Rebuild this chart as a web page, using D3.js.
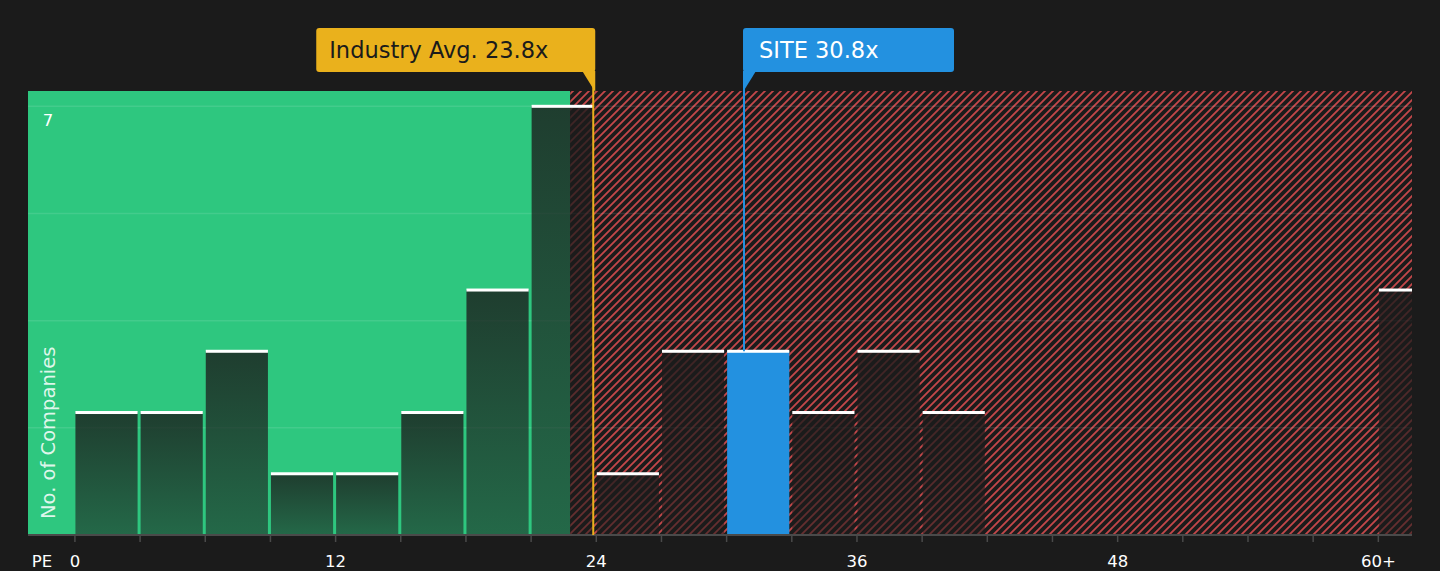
<!DOCTYPE html>
<html>
<head>
<meta charset="utf-8">
<script src="https://cdn.jsdelivr.net/npm/d3@7"></script>
<style>
  html, body { margin: 0; padding: 0; background: #1b1b1b; }
  svg { display: block; font-family: 'DejaVu Sans', sans-serif; }
</style>
</head>
<body>
<svg id="chart" width="1440" height="571"></svg>
<script>
// ── Data ──────────────────────────────────────────────────────────────────────
const binStarts = [0, 3, 6, 9, 12, 15, 18, 21, 24, 27, 30, 33, 36, 39, 60]
const counts    = [2, 2, 3, 1, 1, 2, 4, 7, 1, 3, 3, 2, 3, 2, 4]
const BIN = 3
const siteBin = 30
const xTickValues = [0, 12, 24, 36, 48, 60]
const xTickLabels = ['0', '12', '24', '36', '48', '60+']
const yGrid = [1.75, 3.5, 5.25, 7]
const yTickLabels = [7]
const industryAvg = 23.86
const siteValue = 30.8
const fairEnd = 22.8
const xDomain = [-2.16, 61.55]

// ── Setup ─────────────────────────────────────────────────────────────────────
const plot = { left: 28, right: 1412, top: 91, bottom: 535 }
const svg = d3.select('#chart')

const x = d3.scaleLinear().domain(xDomain).range([plot.left, plot.right])
const y = d3.scaleLinear().domain([0, 7.25]).range([plot.bottom, plot.top])

const defs = svg.append('defs')
const P = 8
const hatch = defs.append('pattern')
  .attr('id', 'hatch').attr('patternUnits', 'userSpaceOnUse')
  .attr('width', P).attr('height', P)
hatch.append('rect').attr('width', P).attr('height', P).attr('fill', '#1b1b1b')
hatch.append('path')
  .attr('d', `M-1,${P + 1} L${P + 1},-1 M-2,2 L2,-2 M${P - 2},${P + 2} L${P + 2},${P - 2}`)
  .attr('stroke', '#c4474a').attr('stroke-width', 1.8)

const grad = defs.append('linearGradient')
  .attr('id', 'barGrad').attr('x1', 0).attr('x2', 0).attr('y1', 0).attr('y2', 1)
grad.append('stop').attr('offset', '0%').attr('stop-color', '#1b1b1b').attr('stop-opacity', 0.8)
grad.append('stop').attr('offset', '100%').attr('stop-color', '#1b1b1b').attr('stop-opacity', 0.55)

defs.append('clipPath').attr('id', 'plotClip').append('rect')
  .attr('x', plot.left).attr('y', plot.top)
  .attr('width', plot.right - plot.left).attr('height', plot.bottom - plot.top)

// ── Regions ───────────────────────────────────────────────────────────────────
svg.append('rect')
  .attr('x', x(xDomain[0])).attr('y', plot.top)
  .attr('width', x(fairEnd) - x(xDomain[0])).attr('height', plot.bottom - plot.top)
  .attr('fill', '#2ec77f')
svg.append('rect')
  .attr('x', x(fairEnd)).attr('y', plot.top)
  .attr('width', x(xDomain[1]) - x(fairEnd)).attr('height', plot.bottom - plot.top)
  .attr('fill', 'url(#hatch)')

// ── Grid ──────────────────────────────────────────────────────────────────────
svg.append('g').selectAll('line').data(yGrid).join('line')
  .attr('x1', plot.left).attr('x2', plot.right)
  .attr('y1', d => y(d)).attr('y2', d => y(d))
  .attr('stroke', '#ffffff').attr('stroke-opacity', 0.1).attr('stroke-width', 1.5)

// ── Bars ──────────────────────────────────────────────────────────────────────
const bars = svg.append('g').attr('clip-path', 'url(#plotClip)')
const data = binStarts.map((s, i) => ({ s, c: counts[i] }))
bars.selectAll('rect.bar').data(data).join('rect')
  .attr('class', 'bar')
  .attr('x', d => x(d.s) + 0.5)
  .attr('width', d => x(d.s + BIN) - x(d.s) - 3)
  .attr('y', d => y(d.c))
  .attr('height', d => y(0) - y(d.c))
  .attr('fill', d => d.s === siteBin ? '#2391e0' : 'url(#barGrad)')
bars.selectAll('rect.cap').data(data).join('rect')
  .attr('class', 'cap')
  .attr('x', d => x(d.s) + 0.5)
  .attr('width', d => x(d.s + BIN) - x(d.s) - 3)
  .attr('y', d => y(d.c) - 1.5)
  .attr('height', 3)
  .attr('fill', '#ffffff')

// ── Axes ──────────────────────────────────────────────────────────────────────
svg.append('line')
  .attr('x1', plot.left).attr('x2', plot.right)
  .attr('y1', plot.bottom).attr('y2', plot.bottom)
  .attr('stroke', '#4a4a4a').attr('stroke-width', 2)
svg.append('g').selectAll('line').data(d3.range(0, 61, BIN)).join('line')
  .attr('x1', d => x(d)).attr('x2', d => x(d))
  .attr('y1', plot.bottom).attr('y2', plot.bottom + 7)
  .attr('stroke', '#4a4a4a').attr('stroke-width', 1.5)
svg.append('g').selectAll('text').data(xTickValues).join('text')
  .attr('x', d => x(d)).attr('y', 567)
  .attr('text-anchor', 'middle').attr('fill', '#ffffff').attr('font-size', 16.5)
  .text((d, i) => xTickLabels[i])
svg.append('text').attr('x', 42).attr('y', 567)
  .attr('text-anchor', 'middle').attr('fill', '#ffffff').attr('font-size', 16.5)
  .text('PE')

svg.append('g').selectAll('text').data(yTickLabels).join('text')
  .attr('x', 48).attr('y', y(7) + 20)
  .attr('text-anchor', 'middle').attr('fill', '#ffffff').attr('font-size', 16.5)
  .text(d => d)
svg.append('text')
  .attr('transform', `translate(55, ${plot.bottom - 16}) rotate(-90)`)
  .attr('fill', '#ffffff').attr('fill-opacity', 0.85).attr('font-size', 19.5)
  .text('No. of Companies')

// ── Annotations ───────────────────────────────────────────────────────────────
const boxTop = 28, boxH = 44
const ax = x(industryAvg)
svg.append('line')
  .attr('x1', ax).attr('x2', ax).attr('y1', boxTop + boxH).attr('y2', plot.bottom)
  .attr('stroke', '#eab11c').attr('stroke-width', 2)
svg.append('rect')
  .attr('x', ax - 277).attr('y', boxTop).attr('width', 279).attr('height', boxH)
  .attr('rx', 3).attr('fill', '#eab11c')
svg.append('path')
  .attr('d', `M${ax - 11},${boxTop + boxH - 1} L${ax + 2},${boxTop + boxH - 1} L${ax + 2},${plot.top + 1} Z`)
  .attr('fill', '#eab11c')
svg.append('text')
  .attr('x', ax - 264).attr('y', boxTop + 30)
  .attr('fill', '#1b1b1b').attr('font-size', 22.5)
  .text('Industry Avg. 23.8x')

const sx = x(siteValue)
svg.append('line')
  .attr('x1', sx).attr('x2', sx).attr('y1', boxTop + boxH).attr('y2', y(counts[binStarts.indexOf(siteBin)]))
  .attr('stroke', '#2391e0').attr('stroke-width', 2)
svg.append('rect')
  .attr('x', sx - 1).attr('y', boxTop).attr('width', 211).attr('height', boxH)
  .attr('rx', 3).attr('fill', '#2391e0')
svg.append('path')
  .attr('d', `M${sx - 1},${boxTop + boxH - 1} L${sx + 12},${boxTop + boxH - 1} L${sx - 1},${plot.top + 1} Z`)
  .attr('fill', '#2391e0')
svg.append('text')
  .attr('x', sx + 15).attr('y', boxTop + 30)
  .attr('fill', '#ffffff').attr('font-size', 22.5)
  .text('SITE 30.8x')
</script>
</body>
</html>
